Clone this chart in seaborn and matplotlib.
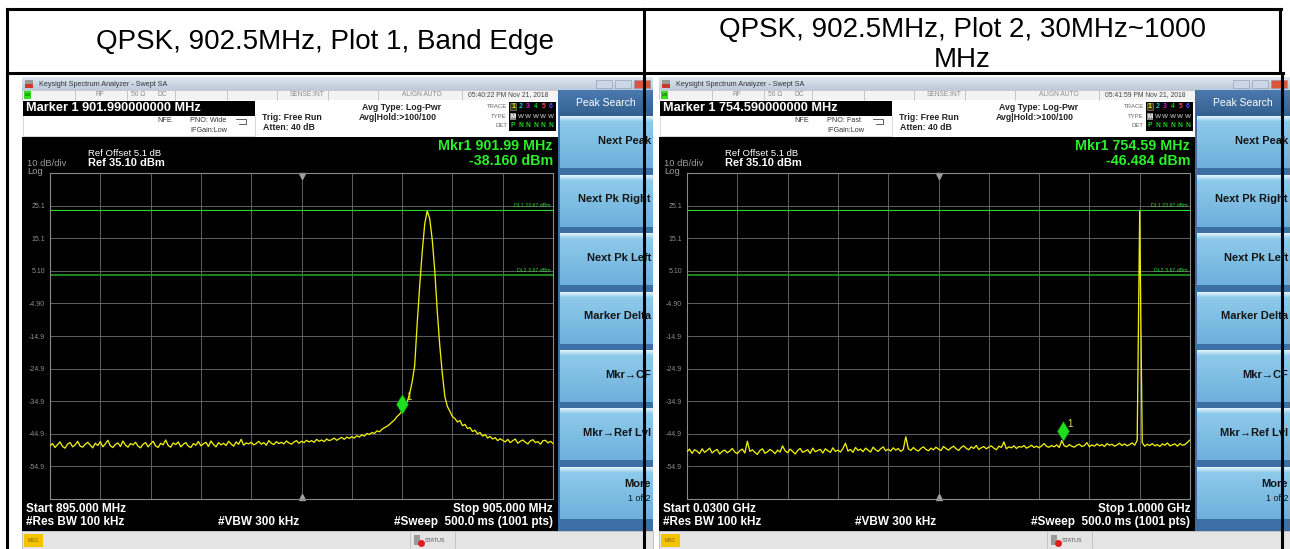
import numpy as np
import matplotlib
matplotlib.use('Agg')
import matplotlib.pyplot as plt
import matplotlib.transforms as mtransforms
from matplotlib.patches import Rectangle
from matplotlib.colors import LinearSegmentedColormap
import seaborn as sns

plt.rcParams['font.family'] = ['Liberation Sans', 'DejaVu Sans']

# ---- text of the table and the two analyzer screens ----
titles = ['QPSK, 902.5MHz, Plot 1, Band Edge', 'QPSK, 902.5MHz, Plot 2, 30MHz~1000\nMHz']
marker_lines = ['Marker 1 901.990000000 MHz', 'Marker 1 754.590000000 MHz']
pno_lines = ['PNO: Wide', 'PNO: Fast']
clock_lines = ['05:40:22 PM Nov 21, 2018', '05:41:59 PM Nov 21, 2018']
mkr_freq_lines = ['Mkr1 901.99 MHz', 'Mkr1 754.59 MHz']
mkr_level_lines = ['-38.160 dBm', '-46.484 dBm']
start_lines = ['Start 895.000 MHz', 'Start 0.0300 GHz']
stop_lines = ['Stop 905.000 MHz', 'Stop 1.0000 GHz']
softkeys = ['Next Peak', 'Next Pk Right', 'Next Pk Left', 'Marker Delta',
            'Mkr\u2192CF', 'Mkr\u2192Ref Lvl', 'More']

# ---- sweep settings (MHz) and markers ----
sweep_start = [895.0, 30.0]
sweep_stop = [905.0, 1000.0]
mkr_freq = [901.99, 754.59]
mkr_level = [-38.16, -46.484]
dl_levels = [23.67, 3.67]
dl_labels = ['DL1 23.67 dBm', 'DL2 3.67 dBm']
y_ticks = [35.1, 25.1, 15.1, 5.1, -4.9, -14.9, -24.9, -34.9, -44.9, -54.9, -64.9]
y_tick_labels = ['', '25.1', '15.1', '5.10', '-4.90', '-14.9', '-24.9', '-34.9', '-44.9', '-54.9', '']

# ---- trace 1 (dBm), 895..905 MHz ----
p1_level = [
    -48.6, -47.9, -49.1, -48.2, -47.4, -48.8, -49.3, -48.0, -47.6, -48.9, -48.3, -47.2, -48.7, -49.0, -48.1, -47.5, -48.4, -49.2, -47.8, -48.5,
    -47.3, -48.9, -48.0, -46.9, -48.6, -49.1, -48.2, -47.7, -48.8, -47.1, -48.4, -49.0, -47.9, -48.3, -47.5, -48.7, -49.2, -48.1, -47.6, -48.9,
    -48.0, -47.2, -48.6, -49.1, -47.8, -48.3, -46.8, -48.5, -49.0, -47.7, -48.2, -47.4, -48.9, -48.1, -47.6, -48.7, -49.1, -47.9, -48.4, -47.3,
    -48.6, -48.0, -47.5, -48.8, -47.1, -48.2, -48.9, -47.6, -48.3, -47.8, -48.5, -47.2, -48.0, -48.7, -47.4, -48.1, -46.6, -48.4, -47.7, -48.0,
    -47.5, -48.3, -47.9, -47.2, -48.1, -47.6, -48.4, -47.0, -47.8, -48.2, -47.3, -47.9, -47.5, -48.0, -47.1, -47.7, -48.1, -47.4, -47.0, -47.8,
    -47.2, -47.6, -46.9, -47.4, -47.0, -47.5, -46.6, -47.2, -46.8, -47.3, -46.5, -47.0, -46.7, -46.2, -46.9, -46.4, -46.0, -46.6, -45.9, -46.3,
    -45.8, -46.2, -45.5, -45.9, -45.2, -45.6, -44.8, -45.1, -44.5, -44.8, -44.0, -44.3, -43.5, -43.0, -42.6, -42.0, -41.3, -40.6, -39.6, -38.9,
    -37.8, -36.8, -35.3, -32.5, -29.0, -24.0, -11.0, 0.5, 11.0, 19.5, 23.5, 21.0, 14.5, 5.0, -7.5, -18.0, -26.5, -33.5, -36.5, -38.0,
    -39.6, -40.2, -41.3, -40.8, -42.4, -42.0, -43.3, -43.0, -44.2, -43.8, -44.9, -44.5, -45.6, -45.1, -46.2, -45.7, -46.5, -46.1, -47.0, -46.4,
    -46.9, -47.4, -46.6, -47.6, -47.0, -46.5, -47.8, -47.2, -46.8, -47.5, -48.0, -47.1, -46.7, -47.6, -47.3, -48.1, -47.0, -46.9, -47.7, -47.2,
    -47.9,
]

# ---- trace 2 (dBm), 30..1000 MHz ----
p2_level = [
    -50.4, -49.6, -50.9, -49.8, -50.2, -51.0, -49.5, -50.6, -50.0, -49.3, -50.8, -50.1, -49.7, -51.1, -50.3, -49.9, -50.7, -50.2, -49.4, -50.5,
    -51.0, -50.1, -49.6, -50.8, -47.2, -50.3, -49.8, -50.6, -51.2, -50.0, -49.5, -50.9, -50.4, -49.7, -50.2, -51.0, -49.9, -50.5, -48.6, -50.1,
    -50.7, -49.6, -50.3, -51.1, -50.0, -49.4, -50.6, -50.2, -49.8, -50.9, -49.3, -50.4, -50.0, -49.7, -50.8, -49.5, -50.1, -50.6, -49.2, -50.3,
    -49.9, -50.5, -49.4, -47.8, -50.2, -49.7, -50.6, -49.1, -50.0, -49.6, -50.4, -49.3, -49.9, -50.5, -49.0, -49.8, -50.3, -49.5, -48.9, -50.1,
    -49.6, -50.2, -49.2, -49.9, -49.4, -50.3, -49.7, -45.8, -49.5, -50.0, -49.1, -49.8, -50.2, -49.4, -48.9, -49.7, -50.1, -49.3, -49.8, -49.0,
    -49.6, -50.0, -48.8, -49.4, -49.9, -49.2, -48.7, -49.5, -50.0, -49.1, -48.6, -49.3, -49.8, -48.9, -49.4, -48.5, -49.7, -49.2, -48.8, -49.5,
    -49.0, -48.6, -49.3, -49.8, -48.7, -49.1, -47.4, -49.5, -48.9, -49.2, -48.6, -49.4, -48.8, -49.0, -48.5, -49.3, -48.9, -48.4, -49.1, -48.7,
    -49.2, -48.6, -47.9, -48.8, -49.0, -48.5, -48.9, -48.3, -49.1, -47.0, -48.6, -48.9, -48.2, -48.7, -49.0, -48.4, -48.1, -48.8, -48.5, -47.6,
    -48.9, -48.3, -48.7, -48.0, -48.6, -48.2, -48.8, -47.9, -48.4, -48.1, -48.7, -48.3, -47.8, -48.5, -48.0, -48.6, -48.2, -47.7, -48.4, -46.9,
    23.5, -47.6, -48.7, -48.1, -48.5, -47.9, -48.6, -48.2, -48.8, -48.0, -48.4, -47.7, -48.6, -48.3, -48.0, -48.7, -47.9, -48.4, -48.2, -47.5,
    -46.8,
]

levels = [p1_level, p2_level]

W, H = 1290, 549
fig = plt.figure(figsize=(W / 100, H / 100), dpi=100)
fig.patch.set_facecolor('white')

bg = fig.add_axes([0, 0, 1, 1])
bg.axis('off')


def box(x0, y0, x1, y1, color, ec='none', lw=0):
    bg.add_patch(Rectangle((x0, y0), x1 - x0, y1 - y0, facecolor=color,
                           edgecolor=ec, linewidth=lw, zorder=1))


def grad(x0, y0, x1, y1, colors):
    cmap = LinearSegmentedColormap.from_list('g', colors)
    bg.imshow(np.linspace(0, 1, 64).reshape(-1, 1), extent=(x0, x1, y1, y0),
              aspect='auto', cmap=cmap, interpolation='bilinear', zorder=1)


def txt(x, y, s, size, color='black', ha='left', weight='normal'):
    bg.text(x, y, s, fontsize=size, color=color, ha=ha, va='center',
            fontweight=weight, zorder=3)


def draw_screen(i, ox):
    r = ox + 631
    # window title bar
    grad(ox, 77, r, 90, ['#dfe7f0', '#bccadb'])
    box(ox + 3, 80, ox + 11, 84, '#9a9a9a')
    box(ox + 3, 84, ox + 11, 88, '#c83a2a')
    txt(ox + 17, 84, 'Keysight Spectrum Analyzer - Swept SA', 5.2, '#333333')
    for k, c in enumerate(['#cbd7e5', '#cbd7e5', '#d9563b']):
        box(r - 57 + 19 * k, 80, r - 41 + 19 * k, 88, c, ec='#8796aa', lw=0.4)

    # status row
    box(ox, 90, ox + 536, 100, '#f3f3f3', ec='#b8b8b8', lw=0.5)
    for sx in [53, 105, 153, 205, 255, 306, 356, 440]:
        bg.plot([ox + sx] * 2, [90, 100], color='#b8b8b8', lw=0.5, zorder=2)
    box(ox + 2, 91, ox + 9, 99, '#33dd22')
    txt(ox + 5.5, 95, 'LXI', 3, '#004400', ha='center')
    txt(ox + 78, 95, 'RF', 4.8, '#8a8a8a', ha='center')
    txt(ox + 116, 95, '50 \u03a9', 4.8, '#8a8a8a', ha='center')
    txt(ox + 140, 95, 'DC', 4.8, '#8a8a8a', ha='center')
    txt(ox + 285, 95, 'SENSE:INT', 4.8, '#8a8a8a', ha='center')
    txt(ox + 400, 95, 'ALIGN AUTO', 4.8, '#8a8a8a', ha='center')
    txt(ox + 486, 95, clock_lines[i], 4.9, '#444444', ha='center')

    # settings area
    box(ox, 100, ox + 536, 137, 'white')
    box(ox + 1, 115, ox + 233, 136, 'white', ec='#c8c8c8', lw=0.5)
    box(ox + 1, 101, ox + 233, 115.5, 'black')
    txt(ox + 4, 108, marker_lines[i], 9.2, 'white', weight='bold')
    txt(ox + 135, 121, 'NFE', 5.2, '#333333')
    txt(ox + 168, 121, pno_lines[i], 5.2, '#333333')
    txt(ox + 168, 130, 'IFGain:Low', 5.2, '#333333')
    bg.plot([ox + 214, ox + 224, ox + 224, ox + 217], [119, 119, 123.5, 123.5],
            color='#444444', lw=0.6, zorder=2)
    txt(ox + 240, 118, 'Trig: Free Run', 6.3, '#222222', weight='bold')
    txt(ox + 241, 128, 'Atten: 40 dB', 6.3, '#222222', weight='bold')
    txt(ox + 340, 107, 'Avg Type: Log-Pwr', 6.3, '#222222', weight='bold')
    txt(ox + 337, 117, 'Avg|Hold:>100/100', 6.3, '#222222', weight='bold')
    txt(ox + 485, 106, 'TRACE', 4.3, '#666666', ha='right')
    txt(ox + 485, 116, 'TYPE', 4.3, '#666666', ha='right')
    txt(ox + 485, 125.5, 'DET', 4.3, '#666666', ha='right')
    box(ox + 487, 102, ox + 534, 131, 'black')
    trace_cols = ['#e8e800', '#00d0d0', '#d020d0', '#00c800', '#ff4848', '#5050ff']
    box(ox + 488, 102.5, ox + 494, 110, '#3a3a10', ec='#9a9a9a', lw=0.4)
    box(ox + 488, 112.5, ox + 494, 120, '#8a8a8a')
    for k in range(6):
        cx = ox + 491 + 7.6 * k
        txt(cx, 106.3, str(k + 1), 5, trace_cols[k], ha='center', weight='bold')
        txt(cx, 116.3, 'M' if k == 0 else 'W', 4.6, 'white' if k == 0 else '#9a9a9a', ha='center', weight='bold')
        txt(cx, 125.5, 'P' if k == 0 else 'N', 4.8, '#22cc22', ha='center', weight='bold')

    # black screen
    box(ox, 137, ox + 536, 531, 'black')
    txt(ox + 66, 153, 'Ref Offset 5.1 dB', 6.8, 'white')
    txt(ox + 5, 164, '10 dB/div', 6.8, '#9a9a9a')
    txt(ox + 66, 163, 'Ref 35.10 dBm', 8, 'white', weight='bold')
    txt(ox + 5, 172, 'Log', 6.8, '#9a9a9a')
    txt(ox + 531, 146, mkr_freq_lines[i], 10.3, '#2bef2b', ha='right', weight='bold')
    txt(ox + 531, 161, mkr_level_lines[i], 10.3, '#2bef2b', ha='right', weight='bold')
    txt(ox + 4, 509, start_lines[i], 8.5, 'white', weight='bold')
    txt(ox + 4, 522, '#Res BW 100 kHz', 8.5, 'white', weight='bold')
    txt(ox + 196, 522, '#VBW 300 kHz', 8.5, 'white', weight='bold')
    txt(ox + 531, 509, stop_lines[i], 8.5, 'white', ha='right', weight='bold')
    txt(ox + 531, 522, '#Sweep  500.0 ms (1001 pts)', 8.5, 'white', ha='right', weight='bold')

    # message bar
    box(ox, 531, r, 549, '#e4e4e4', ec='#b0b0b0', lw=0.5)
    box(ox + 2, 534, ox + 21, 547, '#f5c400')
    txt(ox + 11.5, 540.5, 'MSG', 3.6, '#7a5a00', ha='center')
    for sx in [388, 433]:
        bg.plot([ox + sx] * 2, [532, 548], color='#b8b8b8', lw=0.5, zorder=2)
    box(ox + 392, 535, ox + 398, 545, '#9a9a9a')
    bg.plot([ox + 399], [543], marker='o', ms=4, color='#e02020', zorder=3)
    txt(ox + 403, 540.5, 'STATUS', 4, '#555555')

    # softkey panel
    px0, px1 = ox + 536, r
    box(px0, 90, px1, 531, '#3c6fa4')
    grad(px0 + 1, 90, px1, 116, ['#4b7aaf', '#33608f'])
    txt((px0 + px1) / 2, 103, 'Peak Search', 7.5, 'white', ha='center')
    for k, label in enumerate(softkeys):
        top = 117 + 58.4 * k
        grad(px0 + 2, top, px1, top + 51.5,
             [(0, '#e3f3fb'), (0.1, '#8ecaea'), (1, '#6eb0dc')])
        if label == 'More':
            txt(px1 - 2, top + 17, label, 8, '#141414', ha='right', weight='bold')
            txt(px1 - 2, top + 31, '1 of 2', 6.5, '#141414', ha='right')
        else:
            txt(px1 - 2, top + 24, label, 8, '#141414', ha='right', weight='bold')


def draw_trace(i, ox):
    level = levels[i]
    freq = np.linspace(sweep_start[i], sweep_stop[i], len(level))
    ax = fig.add_axes([(ox + 28) / W, 1 - 499 / H, 503 / W, 326 / H])
    ax.set_facecolor('black')
    ax.set_axisbelow(True)
    ax.grid(True, color='#6e6e6e', lw=0.6)
    ax.set_xticks(np.linspace(sweep_start[i], sweep_stop[i], 11))
    ax.set_yticks(y_ticks)
    ax.set_yticklabels(y_tick_labels)
    ax.tick_params(length=0, labelbottom=False, labelsize=5,
                   labelcolor='#8e8e8e', pad=3.5)
    for s in ax.spines.values():
        s.set_color('#8a8a8a')
        s.set_linewidth(0.8)

    blend = mtransforms.blended_transform_factory(ax.transAxes, ax.transData)
    for lev, lab, col, lw in zip(dl_levels, dl_labels, ['#29d729', '#1e8f1e'], [0.8, 1.3]):
        ax.axhline(lev, color=col, lw=lw, zorder=2)
        ax.text(0.996, lev + 1.6, lab, transform=blend, ha='right', va='center',
                fontsize=3.8, color='#35d835', zorder=3)

    sns.lineplot(x=freq, y=level, ax=ax, color='#eded0a', linewidth=0.95, zorder=4)

    centre = (sweep_start[i] + sweep_stop[i]) / 2
    down = mtransforms.offset_copy(ax.transData, fig=fig, y=-2.5, units='dots')
    up = mtransforms.offset_copy(ax.transData, fig=fig, y=2.5, units='dots')
    ax.plot([centre], [35.1], marker='v', ms=4.5, color='#a0a0a0', clip_on=False, transform=down)
    ax.plot([centre], [-64.9], marker='^', ms=4.5, color='#a0a0a0', clip_on=False, transform=up)

    lift = mtransforms.offset_copy(ax.transData, fig=fig, y=8, units='dots')
    ax.plot([mkr_freq[i]], [mkr_level[i]], marker='d', ms=10.5, color='#1ee01e',
            mec='#0b7a0b', mew=0.4, transform=lift, zorder=5)
    tag = mtransforms.offset_copy(ax.transData, fig=fig, x=7, y=15, units='dots')
    ax.text(mkr_freq[i], mkr_level[i], '1', transform=tag, fontsize=7,
            color='#e6e64a', ha='center', va='center', zorder=5)

    ax.set_xlim(sweep_start[i], sweep_stop[i])
    ax.set_ylim(-64.9, 35.1)
    ax.set_xlabel('')
    ax.set_ylabel('')


for i, ox in enumerate([22, 659]):
    draw_screen(i, ox)

bg.set_xlim(0, W)
bg.set_ylim(H, 0)

for i, ox in enumerate([22, 659]):
    draw_trace(i, ox)

# table grid on top of the screenshots
ov = fig.add_axes([0, 0, 1, 1])
ov.set_xlim(0, W)
ov.set_ylim(H, 0)
ov.axis('off')
ov.patch.set_alpha(0)
rules = [((7, 1281), (9, 9)), ((7, 1283), (73, 73)), ((7, 7), (9, 549)),
         ((644, 644), (9, 549)), ((1280, 1280), (9, 73)), ((1282, 1282), (73, 549))]
for xs, ys in rules:
    ov.plot(xs, ys, color='black', lw=2.2, solid_capstyle='projecting')

ov.text(325.5, 42, titles[0], fontsize=20, ha='center', va='center')
ov.text(962.5, 45, titles[1], fontsize=20, ha='center', va='center', linespacing=1.18)

fig.savefig('out.png', dpi=100)
plt.close(fig)
